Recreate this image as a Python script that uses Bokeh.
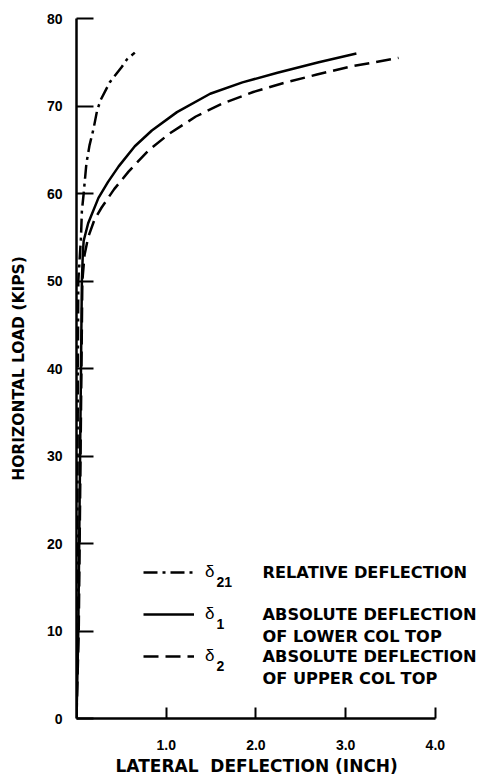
from bokeh.plotting import figure
from bokeh.models import (Range1d, FixedTicker, PrintfTickFormatter, Label, Legend,
                          LegendItem, Title)
from bokeh.embed import file_html
from bokeh.resources import INLINE

# ---- data ----
# delta_21 : relative deflection (dash-dot)
load_d21 = [0, 20, 40, 50, 55, 58, 60, 63.4, 65.5, 67.4, 69.5, 70.7, 72.7, 74.4, 75.3, 76.1]
defl_d21 = [0, 0.01, 0.015, 0.02, 0.05, 0.06, 0.08, 0.11, 0.145, 0.19, 0.23, 0.27, 0.37, 0.5, 0.56, 0.65]
# delta_1 : absolute deflection of lower col top (solid)
load_d1 = [0, 10, 20, 30, 40, 50, 53, 54.6, 56.6, 59.5, 61.3, 63.1, 65.4, 67.2, 69.3, 71.4, 72.7, 73.8, 75.0, 76.0]
defl_d1 = [0, 0.02, 0.03, 0.04, 0.05, 0.06, 0.07, 0.08, 0.13, 0.245, 0.35, 0.47, 0.65, 0.84, 1.12, 1.49, 1.85, 2.24, 2.7, 3.12]
# delta_2 : absolute deflection of upper col top (dashed)
load_d2 = [0, 10, 20, 30, 40, 50, 53, 55, 57, 58.4, 60.5, 62.5, 64.9, 66.8, 68.8, 70.3, 71.6, 72.6, 73.6, 74.5, 75.5]
defl_d2 = [0, 0.025, 0.035, 0.045, 0.055, 0.065, 0.09, 0.13, 0.2, 0.28, 0.42, 0.58, 0.8, 1.03, 1.33, 1.63, 1.97, 2.3, 2.68, 3.05, 3.59]

x_ticks = [1, 2, 3, 4]
y_ticks = [0, 10, 20, 30, 40, 50, 60, 70, 80]

legend_syms = ["δ", "δ", "δ"]
legend_subs = ["21", "1", "2"]
legend_text = [["RELATIVE DEFLECTION"],
               ["ABSOLUTE DEFLECTION", "OF LOWER COL TOP"],
               ["ABSOLUTE DEFLECTION", "OF UPPER COL TOP"]]

x_label = "LATERAL\u00a0\u00a0DEFLECTION (INCH)"
y_label = "HORIZONTAL LOAD (KIPS)"

# ---- figure ----
p = figure(width=477, height=780, output_backend="svg", toolbar_location=None,
           x_range=Range1d(0, 4.47), y_range=Range1d(0, 80),
           min_border_left=76, min_border_right=0, min_border_top=18, min_border_bottom=62)
p.grid.visible = False
p.outline_line_color = None
p.background_fill_color = "white"

for ax in (p.xaxis[0], p.yaxis[0]):
    ax.axis_line_width = 2.5
    ax.axis_line_color = "black"
    ax.major_tick_line_width = 2
    ax.major_tick_line_color = "black"
    ax.major_tick_out = 0
    ax.minor_tick_line_color = None
    ax.major_label_text_font = "Liberation Sans"
    ax.major_label_text_font_style = "bold"
    ax.major_label_text_font_size = "14px"
    ax.major_label_text_color = "black"

p.xaxis.ticker = FixedTicker(ticks=x_ticks)
p.xaxis.formatter = PrintfTickFormatter(format="%.1f")
p.xaxis.bounds = (0, 4)
p.xaxis.major_tick_in = 11
p.xaxis.major_label_standoff = 21

p.yaxis.ticker = FixedTicker(ticks=y_ticks)
p.yaxis.bounds = (0, 80)
p.yaxis.major_tick_in = 17
p.yaxis.major_label_standoff = 14
p.yaxis.axis_label = y_label
p.yaxis.axis_label_standoff = 16
p.yaxis.axis_label_text_font = "DejaVu Sans"
p.yaxis.axis_label_text_font_style = "bold"
p.yaxis.axis_label_text_font_size = "15.5px"
p.yaxis.axis_label_text_color = "black"

# x-axis title (offset so it is centred under the 0..4 axis like the original)
p.add_layout(Title(text=x_label, align="left", offset=39, standoff=2,
                   text_font="DejaVu Sans", text_font_style="bold",
                   text_font_size="17px", text_color="black"), "below")

# ---- curves ----
r21 = p.line(defl_d21, load_d21, line_color="black", line_width=2.5, line_dash="14 5 3 5")
r1 = p.line(defl_d1, load_d1, line_color="black", line_width=2.5)
r2 = p.line(defl_d2, load_d2, line_color="black", line_width=2.5, line_dash="15 7")

# ---- legend (line samples + delta symbols) ----
legend = Legend(items=[LegendItem(label=legend_syms[0], renderers=[r21]),
                       LegendItem(label=legend_syms[1], renderers=[r1]),
                       LegendItem(label=legend_syms[2], renderers=[r2])],
                location=(67, 52), orientation="vertical",
                glyph_width=51, glyph_height=20, label_height=20, label_width=10,
                label_standoff=11, spacing=22, padding=0, margin=0,
                border_line_color=None, background_fill_alpha=0,
                label_text_font="Liberation Sans", label_text_font_size="17px",
                label_text_color="black")
p.add_layout(legend)

# pixel -> data helpers (layout positions for the legend texts)
def px(x):
    return (x - 76) / 89.7

def py(y):
    return (718 - y) / 8.75

row_centers = [572, 614, 656]
for i, sub in enumerate(legend_subs):
    p.add_layout(Label(x=px(216), y=py(row_centers[i] + 9), text=sub,
                       text_font="Liberation Sans", text_font_style="bold",
                       text_font_size="14px", text_baseline="alphabetic", text_align="left",
                       text_color="black"))
    for j, line in enumerate(legend_text[i]):
        p.add_layout(Label(x=px(262), y=py(row_centers[i] + 22 * j), text=line,
                           text_font="DejaVu Sans", text_font_style="bold",
                           text_font_size="16.2px", text_baseline="middle", text_align="left",
                           text_color="black"))

open("out.html", "w").write(file_html(p, INLINE))
